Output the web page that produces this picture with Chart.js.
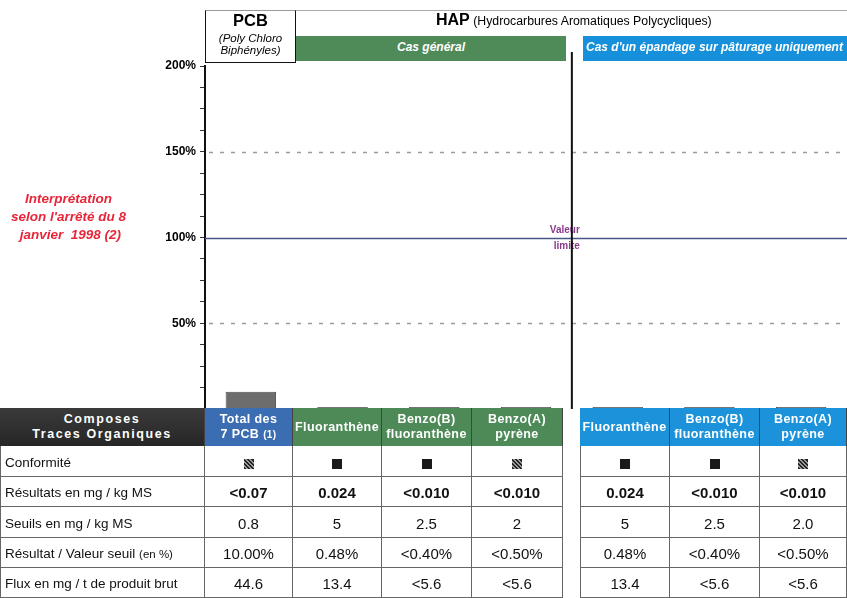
<!DOCTYPE html>
<html><head><meta charset="utf-8">
<script src="https://cdn.jsdelivr.net/npm/chart.js@4/dist/chart.umd.min.js"></script>
<style>
html,body{margin:0;padding:0}
body{width:847px;height:598px;overflow:hidden;background:#fff;font-family:"Liberation Sans",Arial,sans-serif;position:relative}
#wrap{position:absolute;left:0;top:0;width:847px;height:598px}
.abs{position:absolute;box-sizing:border-box}
.cell{position:absolute;box-sizing:border-box;display:flex;align-items:center;justify-content:center;text-align:center;font-size:15px;color:#111;border-right:1px solid #666;border-bottom:1px solid #666;padding-top:2px}
.lab{justify-content:flex-start;text-align:left;padding-left:4px;font-size:13.5px;border-left:1px solid #666}
.hd{color:#fff;font-weight:bold;font-size:12.5px;letter-spacing:0.4px;line-height:15px;border-bottom:none;border-right:1px solid #444;padding-top:0}
.sq{display:inline-block;width:10px;height:10px;background:#1a1a1a;vertical-align:middle}
.sq.h{background:repeating-linear-gradient(45deg,#222 0 1.5px,#999 1.5px 3px)}
</style></head><body>
<div id="wrap"><canvas id="c" width="847" height="598"></canvas></div>
<div id="over"></div>
<script>
// ---- data ----
const categories = ['Total des 7 PCB', 'Fluoranthène', 'Benzo(B) fluoranthène', 'Benzo(A) pyrène', 'Fluoranthène', 'Benzo(B) fluoranthène', 'Benzo(A) pyrène'];
const headerLines = [['Total des', '7 PCB <span style="font-size:10px">(1)</span>'], ['Fluoranthène'], ['Benzo(B)', 'fluoranthène'], ['Benzo(A)', 'pyrène'], ['Fluoranthène'], ['Benzo(B)', 'fluoranthène'], ['Benzo(A)', 'pyrène']];
const ratioPct = [10.0, 0.48, 0.40, 0.50, 0.48, 0.40, 0.50];
const conformite = ['h', 'b', 'b', 'h', 'b', 'b', 'h'];
const resultats = ['<0.07', '0.024', '<0.010', '<0.010', '0.024', '<0.010', '<0.010'];
const seuils = ['0.8', '5', '2.5', '2', '5', '2.5', '2.0'];
const ratioLabels = ['10.00%', '0.48%', '<0.40%', '<0.50%', '0.48%', '<0.40%', '<0.50%'];
const flux = ['44.6', '13.4', '<5.6', '<5.6', '13.4', '<5.6', '<5.6'];
const rowLabels = ['Conformité', 'Résultats en mg / kg MS', 'Seuils en mg / kg MS', 'Résultat / Valeur seuil&nbsp;<span style="font-size:11.5px">(en %)</span>', 'Flux en mg / t de produit brut'];
const yTickLabels = [50, 100, 150, 200];
const dashedLines = [50, 150];
const limitValue = 100;

// ---- layout (styles/positions) ----
const colX = [205, 293, 382, 472, 580, 670, 760];
const colW = [88, 89, 90, 91, 90, 90, 87];
const headColors = ['#3b6db2', '#4d8a57', '#4d8a57', '#4d8a57', '#1b92d9', '#1b92d9', '#1b92d9'];
const rowY = [446, 477, 507, 538, 568];
const rowH = [31, 30, 31, 30, 30];

const refPlugin = {
  id: 'refs',
  beforeDatasetsDraw(chart) {
    const {ctx, chartArea: a, scales: {x, y}} = chart;
    ctx.save();
    ctx.lineWidth = 1.5;
    ctx.strokeStyle = '#9c9c9c';
    ctx.setLineDash([4, 7]);
    dashedLines.forEach(v => {
      const py = Math.round(y.getPixelForValue(v)) + 0.5;
      ctx.beginPath(); ctx.moveTo(a.left + 4, py); ctx.lineTo(a.right, py); ctx.stroke();
    });
    ctx.setLineDash([]);
    ctx.strokeStyle = '#4a5688';
    const ly = Math.round(y.getPixelForValue(limitValue)) + 0.5;
    ctx.beginPath(); ctx.moveTo(a.left, ly); ctx.lineTo(a.right, ly); ctx.stroke();
    const sx = (x.getPixelForValue(3) + x.getPixelForValue(4)) / 2;
    ctx.fillStyle = '#8a3c8c';
    ctx.font = 'bold 10px "Liberation Sans", Arial';
    ctx.textAlign = 'right';
    ctx.textBaseline = 'middle';
    ctx.fillText('Valeur', sx + 8, ly - 8);
    ctx.fillText('limite', sx + 8, ly + 8);
    ctx.strokeStyle = '#111';
    ctx.lineWidth = 2;
    ctx.beginPath(); ctx.moveTo(sx, 52); ctx.lineTo(sx, a.bottom); ctx.stroke();
    ctx.restore();
  }
};

new Chart(document.getElementById('c'), {
  type: 'bar',
  data: {
    labels: categories,
    datasets: [{
      data: ratioPct,
      backgroundColor: '#6d6d6d',
      borderColor: '#4e4e4e',
      borderWidth: 1,
      barPercentage: 0.55,
      categoryPercentage: 1,
      minBarLength: 2
    }]
  },
  options: {
    responsive: false,
    animation: false,
    devicePixelRatio: 1,
    layout: {padding: {left: 140, top: 66, right: 0, bottom: 189}},
    plugins: {legend: {display: false}, tooltip: {enabled: false}},
    scales: {
      x: {display: false},
      y: {
        min: 0, max: 200,
        afterFit(s) { s.width = 65; },
        ticks: {
          stepSize: 12.5,
          autoSkip: false,
          color: '#000',
          padding: 4,
          font: {family: '"Liberation Sans", Arial', size: 12, weight: 'bold'},
          callback: v => yTickLabels.includes(v) ? v + '%' : ''
        },
        grid: {drawOnChartArea: false, drawTicks: true, tickLength: 5, tickColor: '#333', tickWidth: 1},
        border: {display: true, color: '#111', width: 2}
      }
    }
  },
  plugins: [refPlugin]
});

// ---- overlays: header + table ----
let h = '';
h += '<div class="abs" style="left:205px;top:10px;width:642px;height:1px;background:#aaa"></div>';
h += '<div class="abs" style="left:205px;top:10px;width:91px;height:53px;border:1px solid #111;border-top-color:#999;text-align:center">' +
     '<div style="font-weight:bold;font-size:16.5px;margin-top:0px">PCB</div>' +
     '<div style="font-style:italic;font-size:11.5px;line-height:12px;margin-top:2px">(Poly Chloro<br>Biphényles)</div></div>';
h += '<div class="abs" style="left:436px;top:11px;white-space:nowrap;font-size:12.3px"><b style="font-size:16px">HAP</b> (Hydrocarbures Aromatiques Polycycliques)</div>';
h += '<div class="abs" style="left:296px;top:36px;width:270px;height:25px;background:#4f8a59;color:#fff;font-weight:bold;font-style:italic;font-size:12px;text-align:center;line-height:22px">Cas général</div>';
h += '<div class="abs" style="left:583px;top:36px;width:264px;height:25px;background:#1690da;color:#fff;font-weight:bold;font-style:italic;font-size:12px;line-height:22px;padding-left:3px;white-space:nowrap;overflow:hidden">Cas d\'un épandage sur pâturage uniquement</div>';
h += '<div class="abs" style="left:0;top:190px;width:137px;text-align:center;color:#e8263a;font-weight:bold;font-style:italic;font-size:13.5px;line-height:18px;white-space:nowrap">Interprétation<br>selon l\'arrêté du 8<br>&nbsp;janvier&nbsp; 1998 (2)</div>';
// header row
h += '<div class="cell hd" style="left:0;top:408px;width:205px;height:38px;background:linear-gradient(#3a3a3a,#262626);letter-spacing:1.6px"><div>Composes<br>Traces Organiques</div></div>';
categories.forEach((c, i) => {
  h += '<div class="cell hd" style="left:' + colX[i] + 'px;top:408px;width:' + colW[i] + 'px;height:38px;background:' + headColors[i] + '"><div>' + headerLines[i].join('<br>') + '</div></div>';
});
const rows = [conformite.map(k => '<span class="sq' + (k === 'h' ? ' h' : '') + '"></span>'), resultats.map(v => '<b>' + v.replace('<', '&lt;') + '</b>'), seuils, ratioLabels.map(v => v.replace('<', '&lt;')), flux.map(v => v.replace('<', '&lt;'))];
rows.forEach((r, j) => {
  h += '<div class="cell lab" style="left:0;top:' + rowY[j] + 'px;width:205px;height:' + rowH[j] + 'px"><div>' + rowLabels[j] + '</div></div>';
  r.forEach((v, i) => {
    const bl = (i === 4) ? 'border-left:1px solid #666;' : '';
    h += '<div class="cell" style="' + bl + 'left:' + colX[i] + 'px;top:' + rowY[j] + 'px;width:' + colW[i] + 'px;height:' + rowH[j] + 'px"><div>' + v + '</div></div>';
  });
});
document.getElementById('over').innerHTML = h;
</script>
</body></html>
